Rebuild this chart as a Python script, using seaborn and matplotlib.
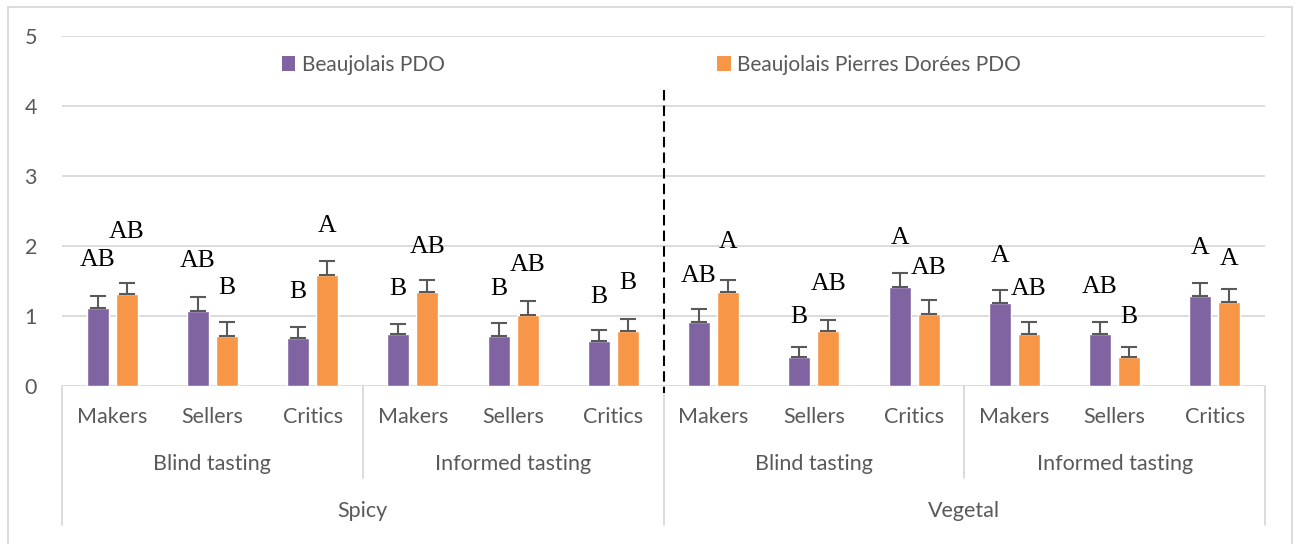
import numpy as np
import pandas as pd
import matplotlib.pyplot as plt
import matplotlib.transforms as mtransforms
from matplotlib.patches import Patch, Rectangle
import seaborn as sns

# -----------------------------
# Data
# -----------------------------
attributes = ["Spicy", "Vegetal"]
tastings = ["Blind tasting", "Informed tasting"]
groups = ["Makers", "Sellers", "Critics"]
series = ["Beaujolais PDO", "Beaujolais Pierres Dorées PDO"]

pdo = [1.12, 1.07, 0.69, 0.74, 0.72, 0.65, 0.91, 0.42, 1.41, 1.18, 0.74, 1.28]
pdo_err = [0.16, 0.20, 0.15, 0.15, 0.18, 0.15, 0.19, 0.14, 0.21, 0.19, 0.17, 0.19]
pierres = [1.31, 0.72, 1.58, 1.35, 1.01, 0.78, 1.35, 0.78, 1.03, 0.74, 0.42, 1.20]
pierres_err = [0.16, 0.19, 0.21, 0.16, 0.21, 0.18, 0.17, 0.16, 0.20, 0.17, 0.14, 0.19]

pdo_letters = ["AB", "AB", "B", "B", "B", "B", "AB", "B", "A", "A", "AB", "A"]
pierres_letters = ["AB", "B", "A", "AB", "AB", "B", "A", "AB", "AB", "AB", "B", "A"]
pdo_letter_y = [1.80, 1.79, 1.34, 1.39, 1.39, 1.27, 1.57, 0.99, 2.11, 1.86, 1.41, 1.97]
pierres_letter_y = [2.20, 1.40, 2.29, 1.98, 1.73, 1.47, 2.05, 1.46, 1.68, 1.38, 0.99, 1.81]

colors = ["#8064A2", "#F79646"]
grey = "#595959"
light = "#D9D9D9"

keys = [f"{a}|{t}|{g}" for a in attributes for t in tastings for g in groups]
df = pd.DataFrame({
    "key": keys * 2,
    "series": [series[0]] * len(keys) + [series[1]] * len(keys),
    "value": pdo + pierres,
})

sns.set_style("white")
plt.rcParams["font.family"] = ["Lato", "DejaVu Sans"]

fig = plt.figure(figsize=(13, 5.44), dpi=100)
ax = fig.add_axes([62 / 1300, 1 - 386 / 544, 1203 / 1300, 350 / 544])

sns.barplot(data=df, x="key", y="value", hue="series", order=keys,
            hue_order=series, palette=colors, saturation=1, width=0.58,
            gap=0.24, errorbar=None, legend=False, ax=ax, zorder=2)

# error bars + letters
for cont, err, letters, ly in zip(ax.containers, [pdo_err, pierres_err],
                                  [pdo_letters, pierres_letters],
                                  [pdo_letter_y, pierres_letter_y]):
    xs = [b.get_x() + b.get_width() / 2 for b in cont]
    ys = [b.get_height() for b in cont]
    ax.errorbar(xs, ys, yerr=[np.zeros(len(err)), err], fmt="none",
                ecolor=grey, elinewidth=1.5, capsize=5.5, capthick=1.5, zorder=3)
    for x, y, t in zip(xs, ly, letters):
        ax.text(x, y, t, ha="center", va="center", fontsize=18.5,
                family="Liberation Serif", color="black")

# axes styling
ax.set_ylim(0, 5)
ax.set_xlim(-0.5, len(keys) - 0.5)
ax.set_yticks(range(6))
ax.yaxis.grid(True, color=light, lw=1.3, zorder=0)
ax.set_axisbelow(True)
for s in ax.spines.values():
    s.set_visible(False)
ax.tick_params(axis="y", length=0, pad=18, labelsize=15.5, labelcolor=grey)
ax.set_xticks(range(len(keys)))
ax.set_xticklabels(groups * 4)
ax.tick_params(axis="x", length=0, pad=15, labelsize=15.5, labelcolor=grey)
ax.set_xlabel("")
ax.set_ylabel("")

# hierarchical category axis
trans = mtransforms.blended_transform_factory(ax.transData, ax.transAxes)
n = len(groups)
for i, t in enumerate(tastings * 2):
    ax.text(i * n + (n - 1) / 2, -0.222, t, transform=trans, ha="center",
            va="center", fontsize=15.5, color=grey)
for i, a in enumerate(attributes):
    ax.text(i * 2 * n + (2 * n - 1) / 2, -0.357, a, transform=trans,
            ha="center", va="center", fontsize=15.5, color=grey)
for i in range(len(keys) // n + 1):
    x = i * n - 0.5
    low = -0.397 if i % 2 == 0 else -0.263
    ax.plot([x, x], [0, low], transform=trans, color=light, lw=1.3,
            clip_on=False)

# dashed separator between attributes
ax.plot([2 * n - 0.5] * 2, [4.23, -0.1], color="black", lw=1.5,
        ls=(0, (5, 2.5)), clip_on=False, zorder=4)

# legend
handles = [Patch(facecolor=c, edgecolor="none") for c in colors]
ax.legend(handles, series, loc="center", bbox_to_anchor=(0.49, 0.917),
          ncol=2, frameon=False, fontsize=15, labelcolor=grey,
          handlelength=0.65, handleheight=0.7, handletextpad=0.3,
          columnspacing=13.1)

# chart border
fig.add_artist(Rectangle((8 / 1300, -0.01), 1284 / 1300, 1 - 7 / 544 + 0.01,
                         transform=fig.transFigure, fill=False,
                         edgecolor=light, lw=1.3))

fig.savefig("out.png", dpi=100)
